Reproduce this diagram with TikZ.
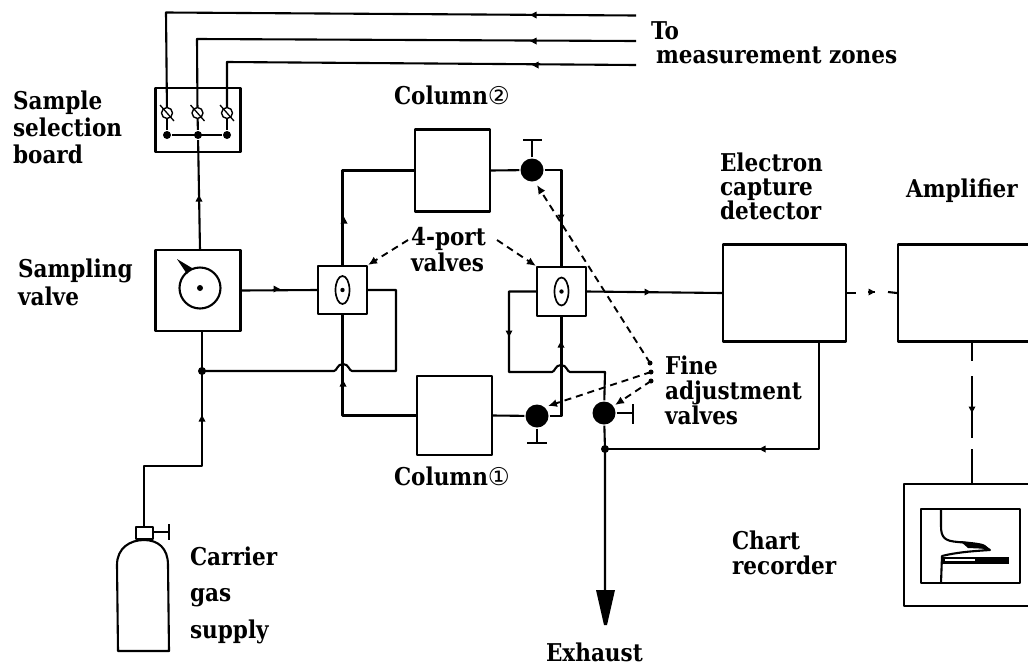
\documentclass[tikz,border=0pt]{standalone}
\usepackage{fontspec}
\setmainfont{DejaVu Serif}
\newfontfamily\labfont[FakeStretch=0.88]{DejaVu Serif}
\newfontfamily\cfont{DejaVu Sans}
\usetikzlibrary{arrows.meta,calc}
\tikzset{
  box/.style={draw,minimum width=#1,inner sep=0pt},
  hgt/.style={minimum height=#1},
  dotj/.style={circle,fill=black,inner sep=0pt,minimum size=8pt},
  fav/.style={circle,fill=black,inner sep=0pt,minimum size=23pt},
  port/.style={circle,draw,fill=white,inner sep=0pt,minimum size=11pt,line width=1.4pt},
  lab/.style={font=\labfont\bfseries\fontsize{24.5}{#1}\selectfont,align=left,inner sep=0pt,anchor=west},
  dsh/.style={dash pattern=on 7pt off 5pt,line width=1.9pt},
  dashtip/.style={-{Latex[length=9pt,width=8pt]}},
  flowtip/.pic={\fill (3,0) -- (-3.5,3.5) -- (-3.5,-3.5) -- cycle;}
}
\begin{document}
\begin{tikzpicture}[x=1pt,y=-1pt,line width=2.1pt,line join=round]
\useasboundingbox (0,0) rectangle (1028,670);
\clip (0,0) rectangle (1028,670);
% boxes
\node[box=85pt,hgt=64pt] (board) at (198,120) {};
\node[box=85pt,hgt=81pt] (sv) at (198,290.5) {};
\node[box=49pt,hgt=48pt] (v1) at (342.5,290) {};
\node[box=49pt,hgt=49pt] (v2) at (561.5,291.5) {};
\node[box=75pt,hgt=82pt] (col2) at (452.5,170.5) {};
\node[box=75pt,hgt=79pt] (col1) at (454.5,415.5) {};
\node[box=123pt,hgt=97pt] (det) at (784.5,293) {};
\node[box=164pt,hgt=97pt] (amp) at (980,293) {};
\node[box=164pt,hgt=122pt] (chart) at (986,545) {};
\node[box=99pt,hgt=74pt] (inner) at (970.5,546) {};
% sampling valve dial
\node[circle,draw,inner sep=0pt,minimum size=41pt] (dial) at (200,288) {};
\fill (dial.center) circle (3pt);
\fill (177,259) -- (192,268) -- (187,274) -- cycle;
% valve eyes
\draw[line width=1.7pt] (v1.center) ellipse (7pt and 14pt);
\fill (v1.center) circle (2.2pt);
\draw[line width=1.7pt] (v2.center) ellipse (7pt and 14pt);
\fill (v2.center) circle (2.2pt);
% sample lines
\coordinate (e1) at (636,15.5);
\coordinate (e2) at (636,41);
\coordinate (e3) at (636,65);
\node[port] (p1) at (167,113) {};
\node[port] (p2) at (197.5,113) {};
\node[port] (p3) at (227,113) {};
\node[dotj] (d1) at (167,135) {};
\node[dotj] (d2) at (198,135) {};
\node[dotj] (d3) at (227,135) {};
\draw (e1) -- (166,12.5) -- (p1);
\draw (e2) -- (197,39) -- (p2);
\draw (e3) -- (227,62) -- (p3);
\draw (p1) -- (d1);
\draw (p2) -- (d2);
\draw (p3) -- (d3);
\draw (d1) -- (d3);
\foreach \p in {p1,p2,p3}{\draw[line width=1.3pt] ($(\p)+(-7,-8)$) -- ($(\p)+(7,8)$);}
\coordinate (svtop) at (200,250);
\coordinate (svbot) at (202,331);
\draw (d2) -- (svtop);
% gas and flow network
\draw (sv.east) -- (v1.west);
\coordinate (j1) at (202,371);
\node[dotj] (jd) at (j1) {};
\coordinate (br) at (202,466);
\coordinate (neck) at (144,527);
\draw (svbot) -- (br) -- (144,466) -- (neck);
% crossing line with jump over v1 -> col1
\coordinate (b1) at (343,371);
\draw (j1) -- ($(b1)+(-9,0)$) .. controls ($(b1)+(-6,0)$) and ($(b1)+(-6,-7)$) .. ($(b1)+(0,-7)$)
  .. controls ($(b1)+(6,-7)$) and ($(b1)+(6,0)$) .. ($(b1)+(9,0)$) -- (396,371) -- (396,290) -- (v1.east);
\draw (v1.south) -- (v1.south |- col1.west) -- (col1.west);
\draw (v1.north) -- (v1.north |- col2.west) -- (col2.west);
% fine valves
\node[fav] (f2) at (532,170) {};
\node[fav] (f1) at (537,416) {};
\node[fav] (f3) at (604,413) {};
\coordinate (h2) at (532,140);
\coordinate (h1) at (537,443);
\coordinate (h3) at (633,413);
\draw (f2) -- (h2);
\draw (523,140) -- (542,140);
\draw (f1) -- (h1);
\draw (527,443) -- (547,443);
\draw (f3) -- (h3);
\draw (h3 |- 0,404) -- (h3 |- 0,424);
\draw (col2.east) -- (f2);
\draw (f2) -- (v2.north |- f2) -- (v2.north);
\draw (col1.east) -- (f1);
\draw (f1) -- (v2.south |- f1) -- (v2.south);
% second crossing
\coordinate (b2) at (561,372);
\draw (v2.west) -- (509,291.5) -- (509,372) -- ($(b2)+(-9,0)$) .. controls ($(b2)+(-6,0)$) and ($(b2)+(-6,-7)$) .. ($(b2)+(0,-7)$)
  .. controls ($(b2)+(6,-7)$) and ($(b2)+(6,0)$) .. ($(b2)+(9,0)$) -- (605,372) -- (f3);
\coordinate (j2) at (605,449);
\node[dotj] (jd2) at (j2) {};
\coordinate (tail) at (605,592);
\draw (f3) -- (j2) -- (tail);
\fill (596,590) -- (615,590) -- (607,625) -- (604,625) -- cycle;
\coordinate (dr) at (819,341.5);
\draw (dr) -- (819,449) -- (j2);
\draw (v2.east) -- (det.west);
% signal lines
\draw (det.east) -- (856,293);
\draw (868,292) -- (875,292);
\draw (888,292) -- (amp.west);
\draw (972,341.5) -- (972,361);
\draw (972,376) -- (972,438);
\draw (972,449) -- (972,484);
% chart trace
\draw (941,509) -- (941,526) .. controls (941,538) and (945,541) .. (958,542)
  .. controls (972,543) and (978,546) .. (990,550)
  .. controls (975,551) and (958,552) .. (942,556) -- (941,583);
\fill (960,541) .. controls (972,542) and (982,543) .. (985,545) -- (990,549) -- (968,548) -- cycle;
\fill (942,557) rectangle (1009,563.5);
\draw[white,line width=1.1pt] (945,560) -- (975,560);
% cylinder
\draw (neck) ++(-8,0) rectangle ++(17,12);
\draw (153,532) -- (169,532);
\draw (169,524) -- (169,540);
\draw (118,651) -- (117,565) .. controls (117,548) and (130,540) .. (144,540)
  .. controls (158,540) and (168,548) .. (168,565) -- (169,651) -- cycle;
% flow tips
\foreach \x/\y/\a in {533/15/180,533/41/180,535/65/180,199/198/90,277/289/0,344/220/90,561/218/-90,
  648/292/0,509/334/-90,561/344/90,343/383/90,202/418/90,762/449/180,972/410/-90,872/292/0}{
  \path (\x,\y) pic[rotate=\a] {flowtip};}
% dashed leaders
\coordinate (a1) at (408,240);
\coordinate (a2) at (497,240);
\coordinate (fa) at (650,363);
\coordinate (fb) at (651,372);
\coordinate (fc) at (651,381);
\draw[dsh,dashtip] (a1) -- (v1.north east);
\draw[dsh,dashtip] (a2) -- (v2.north west);
\draw[dsh,dashtip] (fa) -- (537,185);
\draw[dsh,dashtip] (fb) -- (548,406);
\draw[dsh,dashtip] (fc) -- (615,405);
\foreach \c in {fa,fb,fc}{\fill (\c) circle (2.5pt);}
% labels
\node[lab=27pt] (l1) at (12,127) {Sample\\selection\\board};
\node[lab=28pt] (l2) at (17,282) {Sampling\\valve};
\node[lab=25pt,anchor=base west] (l3) at (650,39) {To};
\node[lab=25pt,anchor=base west] (l4) at (655,63) {measurement zones};
\node[lab=25pt,anchor=base west] (l5) at (393,104) {Column{\cfont\mdseries②}};
\node[lab=25pt,anchor=base west] (l6) at (393,485) {Column{\cfont\mdseries①}};
\node[lab=26pt] (l7) at (410,250) {4-port\\valves};
\node[lab=24pt] (l8) at (719,186) {Electron\\capture\\detector};
\node[lab=25pt,anchor=base west] (l9) at (905,197) {Amplifier};
\node[lab=25pt] (l10) at (664,390) {Fine\\adjustment\\valves};
\node[lab=25pt] (l11) at (731,553) {Chart\\recorder};
\node[lab=36.5pt] (l12) at (189,595) {Carrier\\gas\\supply};
\node[lab=25pt,anchor=base west] (l13) at (545,661) {Exhaust};
\end{tikzpicture}
\end{document}
